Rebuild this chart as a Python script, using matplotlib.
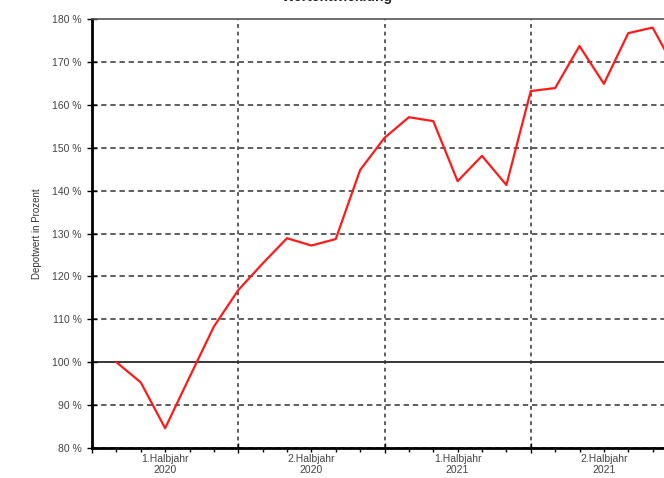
import matplotlib.pyplot as plt
import numpy as np

plt.rcParams['font.family'] = ['Liberation Sans', 'DejaVu Sans']

# month index (1 = end of Jan 2020 ... 24 = end of Dec 2021)
months = list(range(1, 25))
depot_pct = [100.0, 95.3, 84.6, 96.5, 108.3, 116.8, 123.0, 128.9, 127.2, 128.7, 144.8, 152.3,
             157.1, 156.2, 142.2, 148.1, 141.3, 163.2, 163.9, 173.7, 164.9, 176.7, 178.0, 167.6]

half_labels = ['1.Halbjahr\n2020', '2.Halbjahr\n2020', '1.Halbjahr\n2021', '2.Halbjahr\n2021']
half_centers = [3, 9, 15, 21]
y_ticks = list(range(80, 181, 10))

W, H = 664, 478
fig = plt.figure(figsize=(W / 100, H / 100), dpi=100)
ax = fig.add_axes([92 / W, 30 / H, 585 / W, 429 / H])

ax.set_xlim(0, 24)
ax.set_ylim(80, 180)

# grid
for y in y_ticks:
    if y == 100:
        ax.axhline(y, color='black', lw=1.1, zorder=1)
    elif y < 180:
        ax.axhline(y, color='#333333', lw=1.1, ls=(0, (3.5, 2.5)), zorder=1)
for x in [6, 12, 18]:
    ax.axvline(x, color='#333333', lw=1.1, ls=(0, (2.5, 2.5)), zorder=1)

ax.plot(months, depot_pct, color='#ff1a1a', lw=1.6, zorder=3, clip_on=False)

ax.set_yticks(y_ticks)
ax.set_yticklabels([f'{y} %' for y in y_ticks], fontsize=7.5, color='#444444')
ax.tick_params(axis='y', direction='inout', length=7, width=1, pad=4)

ax.set_xticks([0, 6, 12, 18, 24])
ax.set_xticklabels([])
ax.set_xticks(range(25), minor=True)
ax.tick_params(axis='x', which='major', direction='inout', length=7, width=1)
ax.tick_params(axis='x', which='minor', direction='out', length=3, width=1)

for xc, lab in zip(half_centers, half_labels):
    ax.annotate(lab, xy=(xc, 0), xycoords=('data', 'axes fraction'),
                xytext=(0, -4.5), textcoords='offset points',
                ha='center', va='top', fontsize=7.5, color='#444444', linespacing=1.1)

ax.set_ylabel('Depotwert in Prozent', fontsize=7, color='#333333', labelpad=7)

for side in ['left', 'bottom']:
    ax.spines[side].set_linewidth(2)
    ax.spines[side].set_color('black')
ax.spines['top'].set_linewidth(1.2)
ax.spines['top'].set_color('#555555')
ax.spines['right'].set_visible(False)

fig.text(393 / W, 1 - 1 / H, 'Wertentwicklung', ha='right', va='baseline',
         fontsize=10, fontweight='bold', color='#222222')

fig.savefig('out.png', dpi=100)
